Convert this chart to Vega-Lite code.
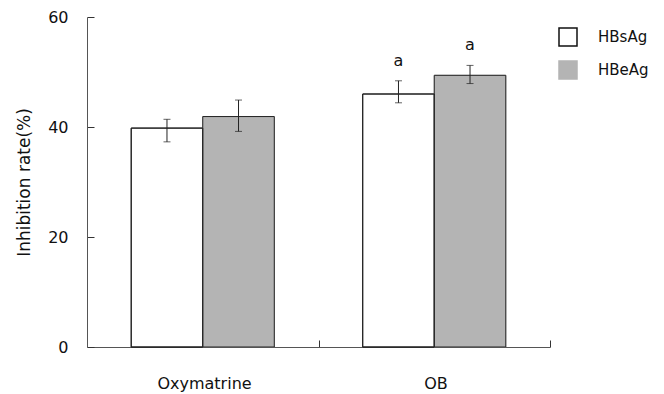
{
  "$schema": "https://vega.github.io/schema/vega-lite/v6.json",
  "width": 463,
  "height": 330,
  "autosize": {"type": "none"},
  "padding": {"left": 87, "top": 17, "right": 114, "bottom": 47},
  "background": "white",
  "config": {"view": {"stroke": null}, "font": "DejaVu Sans"},
  "data": {
    "values": [
      {"drug": "Oxymatrine", "antigen": "HBsAg", "mean": 39.8, "lo": 37.3, "hi": 41.4, "sig": ""},
      {"drug": "Oxymatrine", "antigen": "HBeAg", "mean": 41.9, "lo": 39.2, "hi": 44.9, "sig": ""},
      {"drug": "OB", "antigen": "HBsAg", "mean": 46.0, "lo": 44.4, "hi": 48.4, "sig": "a"},
      {"drug": "OB", "antigen": "HBeAg", "mean": 49.4, "lo": 47.9, "hi": 51.2, "sig": "a"}
    ]
  },
  "encoding": {
    "x": {
      "field": "drug",
      "type": "nominal",
      "sort": ["Oxymatrine", "OB"],
      "scale": {"paddingInner": 0.382, "paddingOuter": 0.191},
      "axis": {
        "title": null,
        "labelAngle": 0,
        "labelFontSize": 16,
        "labelColor": "#111",
        "domainColor": "#555",
        "tickColor": "#333",
        "tickWidth": 1,
        "tickSize": -7,
        "tickOffset": 115.75,
        "labelOffset": -114.5,
        "labelPadding": 35
      }
    },
    "xOffset": {
      "field": "antigen",
      "type": "nominal",
      "sort": ["HBsAg", "HBeAg"],
      "scale": {"paddingInner": 0, "paddingOuter": 0}
    }
  },
  "layer": [
    {
      "mark": {"type": "bar", "strokeWidth": 1},
      "encoding": {
        "y": {
          "field": "mean",
          "type": "quantitative",
          "scale": {"domain": [0, 60]},
          "axis": {
            "values": [0, 20, 40, 60],
            "grid": false,
            "title": "Inhibition rate(%)",
            "titleFontSize": 17,
            "titleFontWeight": "normal",
            "titleColor": "#111",
            "titlePadding": 14,
            "labelFontSize": 16,
            "labelColor": "#111",
            "domainColor": "#555",
            "tickColor": "#333",
            "tickWidth": 1,
            "tickSize": -7,
            "labelPadding": 26
          }
        },
        "fill": {
          "field": "antigen",
          "type": "nominal",
          "sort": ["HBsAg", "HBeAg"],
          "scale": {"domain": ["HBsAg", "HBeAg"], "range": ["white", "#b4b4b4"]},
          "legend": {
            "title": null,
            "orient": "none",
            "legendX": 471,
            "legendY": 10,
            "padding": 0,
            "symbolType": "square",
            "symbolSize": 324,
            "symbolStrokeWidth": 1.5,
            "labelFontSize": 15,
            "labelColor": "#111",
            "labelOffset": 20,
            "rowPadding": 9
          }
        },
        "stroke": {
          "field": "antigen",
          "type": "nominal",
          "sort": ["HBsAg", "HBeAg"],
          "scale": {"domain": ["HBsAg", "HBeAg"], "range": ["#111", "#b4b4b4"]}
        }
      }
    },
    {
      "mark": {"type": "bar", "fill": null, "fillOpacity": 0, "stroke": "#222", "strokeWidth": 1},
      "encoding": {
        "y": {"field": "mean", "type": "quantitative"}
      }
    },
    {
      "mark": {"type": "rule", "color": "#222", "strokeWidth": 1},
      "encoding": {
        "y": {"field": "lo", "type": "quantitative"},
        "y2": {"field": "hi"}
      }
    },
    {
      "mark": {"type": "tick", "color": "#222", "size": 7, "thickness": 1},
      "encoding": {"y": {"field": "lo", "type": "quantitative"}}
    },
    {
      "mark": {"type": "tick", "color": "#222", "size": 7, "thickness": 1},
      "encoding": {"y": {"field": "hi", "type": "quantitative"}}
    },
    {
      "mark": {"type": "text", "dy": -12, "baseline": "bottom", "fontSize": 16, "color": "#111"},
      "encoding": {
        "y": {"field": "hi", "type": "quantitative"},
        "text": {"field": "sig"}
      }
    }
  ]
}
